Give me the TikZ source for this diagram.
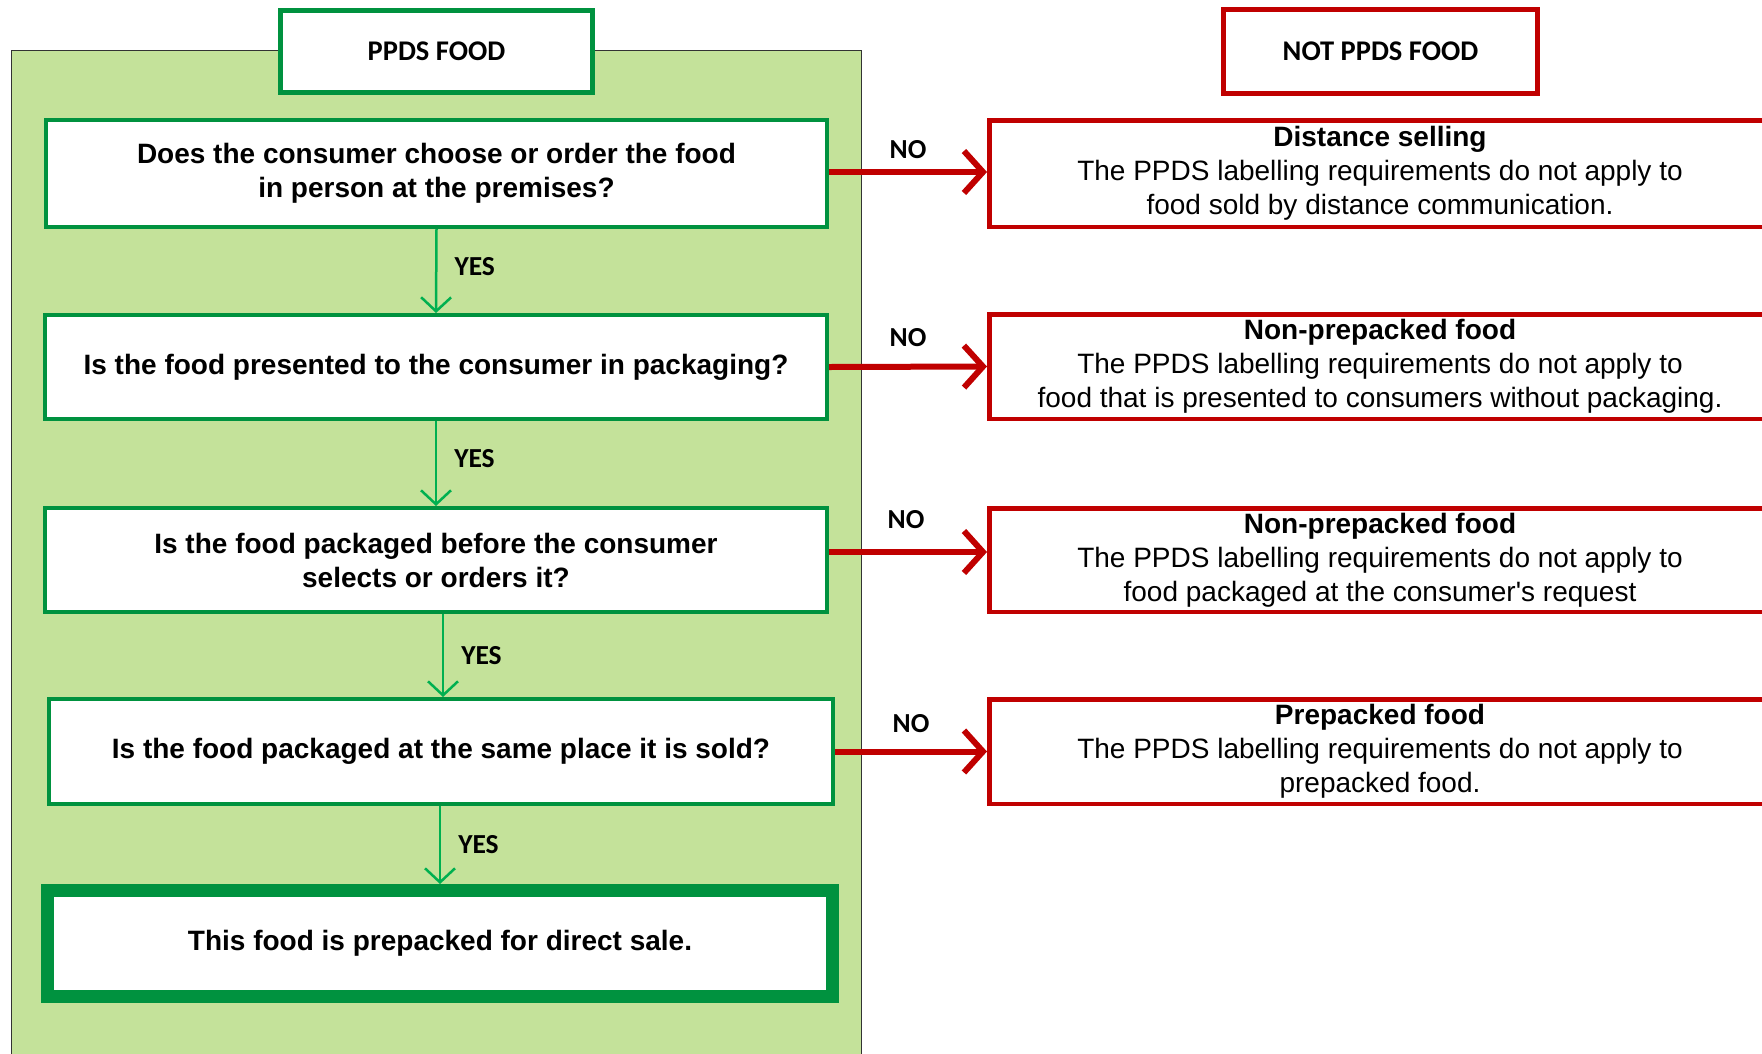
\documentclass[tikz,border=0pt]{standalone}
\usepackage{fontspec}
\setmainfont{Liberation Sans}
\newfontfamily\calfont{Carlito}
\usetikzlibrary{arrows.meta}
\definecolor{panelgreen}{RGB}{196,226,154}
\definecolor{boxgreen}{RGB}{0,146,63}
\definecolor{arrgreen}{RGB}{0,176,80}
\definecolor{boxred}{RGB}{192,0,0}
\tikzset{
  qbox/.style={draw=boxgreen, line width=4pt, fill=white, inner sep=0pt, align=center,
    font=\fontsize{28}{34}\selectfont\bfseries},
  rbox/.style={draw=boxred, line width=4.5pt, fill=white, inner sep=0pt, align=center,
    minimum width=781.5pt, font=\fontsize{28}{34}\selectfont},
  headbox/.style={draw=#1, line width=5pt, fill=white, inner sep=0pt,
    font=\calfont\fontsize{28.5}{32}\selectfont\bfseries},
  garrow/.style={draw=arrgreen, line width=2.5pt, -{Straight Barb[length=14pt,width=30pt]}},
  rarrow/.style={draw=boxred, line width=6pt, -{Straight Barb[length=19pt,width=42pt]}},
  lbl/.style={inner sep=0pt, font=\calfont\fontsize{27.5}{30}\selectfont\bfseries, text=black}
}
\begin{document}
\begin{tikzpicture}[x=1pt,y=-1pt]
\useasboundingbox (0,0) rectangle (1762,1053);
\clip (0,0) rectangle (1762,1053);
\fill[white] (0,0) rectangle (1762,1053);
% panel
\path[fill=panelgreen, draw=black!80, line width=1pt] (11,50) rectangle (861,1070);
% headers
\node[headbox=boxgreen, minimum width=312pt, minimum height=82pt] (ppds) at (436.5,51.5) {PPDS FOOD};
\node[headbox=boxred, minimum width=314pt, minimum height=84pt] (notppds) at (1380.5,51.5) {NOT PPDS FOOD};
% questions
\node[qbox, minimum width=781pt, minimum height=107pt] (q1) at (436.5,173.5)
  {Does the consumer choose or order the food\\in person at the premises?};
\node[qbox, minimum width=782pt, minimum height=104pt] (q2) at (436,367)
  {Is the food presented to the consumer in packaging?};
\node[qbox, minimum width=782pt, minimum height=104pt] (q3) at (436,560)
  {Is the food packaged before the consumer\\selects or orders it?};
\node[qbox, minimum width=784pt, minimum height=105pt] (q4) at (441,751.5)
  {Is the food packaged at the same place it is sold?};
\node[qbox, line width=13pt, minimum width=785pt, minimum height=106pt] (fin) at (440,943.5)
  {This food is prepacked for direct sale.};
% red boxes
\node[rbox, minimum height=106.5pt] (r1) at (1380,173.5)
  {\textbf{Distance selling}\\The PPDS labelling requirements do not apply to\\food sold by distance communication.};
\node[rbox, minimum height=104.5pt] (r2) at (1380,366.5)
  {\textbf{Non-prepacked food}\\The PPDS labelling requirements do not apply to\\food that is presented to consumers without packaging.};
\node[rbox, minimum height=103.5pt] (r3) at (1380,560)
  {\textbf{Non-prepacked food}\\The PPDS labelling requirements do not apply to\\food packaged at the consumer\textquotesingle s request};
\node[rbox, minimum height=104.5pt] (r4) at (1380,751.5)
  {\textbf{Prepacked food}\\The PPDS labelling requirements do not apply to\\prepacked food.};
% yes arrows
\draw[garrow] (q1.south) -- node[lbl, midway, right=17pt, yshift=4pt] {YES} (q2.north);
\draw[garrow] (q2.south) -- node[lbl, midway, right=17pt, yshift=5pt] {YES} (q3.north);
\draw[garrow] ([xshift=7pt]q3.south) -- node[lbl, midway, right=17pt] {YES} ([xshift=2pt]q4.north);
\draw[garrow] ([xshift=-1pt]q4.south) -- node[lbl, midway, right=17pt] {YES} (fin.north);
% no arrows
\draw[rarrow] ([yshift=1.5pt]q1.east) -- node[lbl, midway, above=10pt] {NO} ([yshift=1.5pt]r1.west);
\draw[rarrow] (q2.east) -- node[lbl, midway, above=17pt] {NO} (r2.west);
\draw[rarrow] ([yshift=8pt]q3.east) -- node[lbl, midway, above=20pt, xshift=-2pt] {NO} ([yshift=8pt]r3.west);
\draw[rarrow] (q4.east) -- node[lbl, midway, above=16pt] {NO} (r4.west);
\end{tikzpicture}
\end{document}
